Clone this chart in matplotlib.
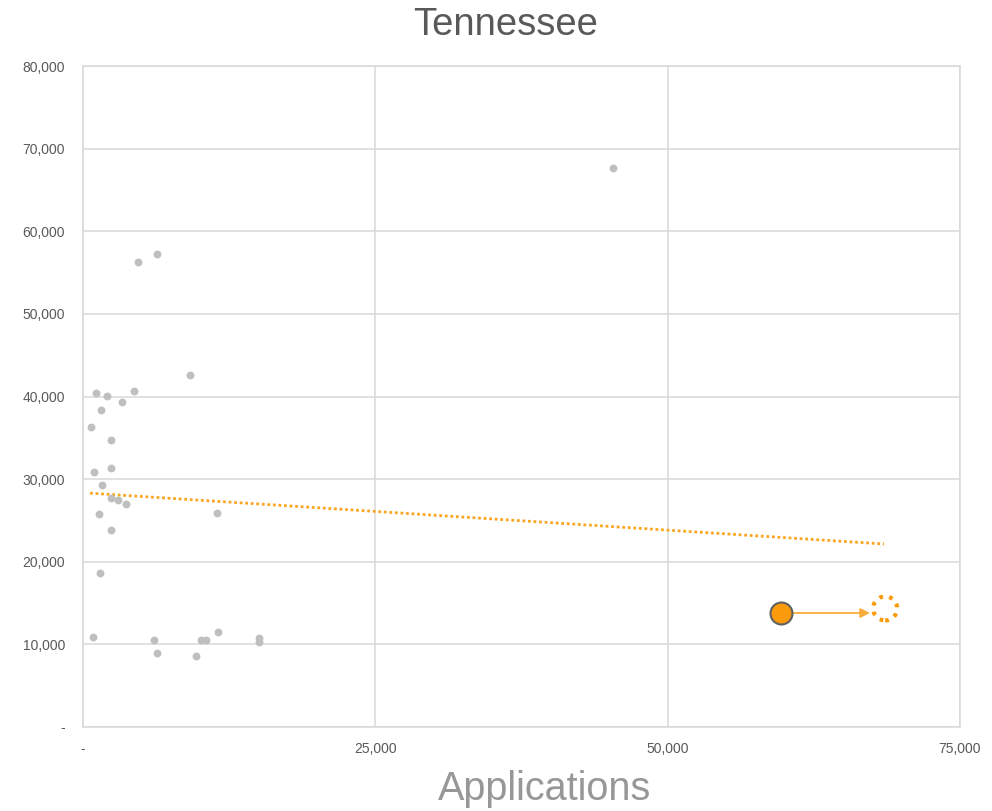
import matplotlib.pyplot as plt
from matplotlib.ticker import FuncFormatter, MultipleLocator

plt.rcParams['font.family'] = ['Liberation Sans', 'DejaVu Sans']

# grey state points (applications, value)
apps = [9150, 1110, 2050, 4330, 3360, 1510, 710, 2420, 970, 2420, 1620,
        2420, 2990, 3680, 1400, 11430, 2420, 1450, 830, 6070, 6330, 9660,
        10090, 10520, 11570, 15050, 15050, 4700, 6330, 45320]
values = [42570, 40460, 40100, 40670, 39330, 38370, 36270, 34770, 30830,
          31390, 29290, 27750, 27430, 27030, 25740, 25860, 23810, 18640,
          10890, 10490, 8990, 8630, 10490, 10490, 11460, 10810, 10250,
          56280, 57250, 67650]

# trend line ends
trend_x = [600, 68500]
trend_y = [28300, 22150]

# Tennessee now and where it moves to
tn_x, tn_y = 59700, 13800
tn_new_x, tn_new_y = 68600, 14350
arrow_tip_x = 67300
arrow_tail_x = 60700

orange = '#fb9a0a'
grid_col = '#d9d9d9'
text_col = '#595959'

fig = plt.figure(figsize=(9.92, 8.11), dpi=100)
ax = fig.add_axes([83 / 992, 84 / 811, 877 / 992, 661 / 811])

ax.scatter(apps, values, s=32, color='#bfbfbf', zorder=3, linewidths=0)
ax.plot(trend_x, trend_y, color='#fca520', lw=2.0, linestyle=(0, (1, 1)), zorder=2)

ax.annotate('', xy=(arrow_tip_x, tn_y), xytext=(arrow_tail_x, tn_y),
            arrowprops=dict(arrowstyle='-|>', color='#fbab3a', lw=1.3,
                            mutation_scale=14, shrinkA=0, shrinkB=0), zorder=4)
ax.scatter([tn_x], [tn_y], s=250, color=orange, edgecolors='#606060',
           linewidths=1.5, zorder=5)
ax.scatter([tn_new_x], [tn_new_y], s=300, facecolors='none', edgecolors=orange,
           linewidths=3.0, linestyle=(0, (0.9, 1.5)), zorder=5)

ax.set_xlim(0, 75000)
ax.set_ylim(0, 80000)
ax.xaxis.set_major_locator(MultipleLocator(25000))
ax.yaxis.set_major_locator(MultipleLocator(10000))
fmt = FuncFormatter(lambda v, p: '-' if v == 0 else f'{v:,.0f}')
ax.xaxis.set_major_formatter(fmt)
ax.yaxis.set_major_formatter(fmt)
ax.tick_params(axis='both', length=0, labelsize=10, labelcolor=text_col)
ax.tick_params(axis='y', pad=13)
ax.tick_params(axis='x', pad=11)

ax.grid(True, color=grid_col, lw=1.1)
ax.set_axisbelow(True)
for sp in ax.spines.values():
    sp.set_color(grid_col)
    sp.set_linewidth(1.1)

fig.text(506 / 992, 1 - 35 / 811, 'Tennessee', ha='center', va='baseline',
         fontsize=27.5, color=text_col)
fig.text(545 / 992, 1 - 800 / 811, 'Applications', ha='center', va='baseline',
         fontsize=28.5, color='#979797')

fig.savefig('out.png', dpi=100)
